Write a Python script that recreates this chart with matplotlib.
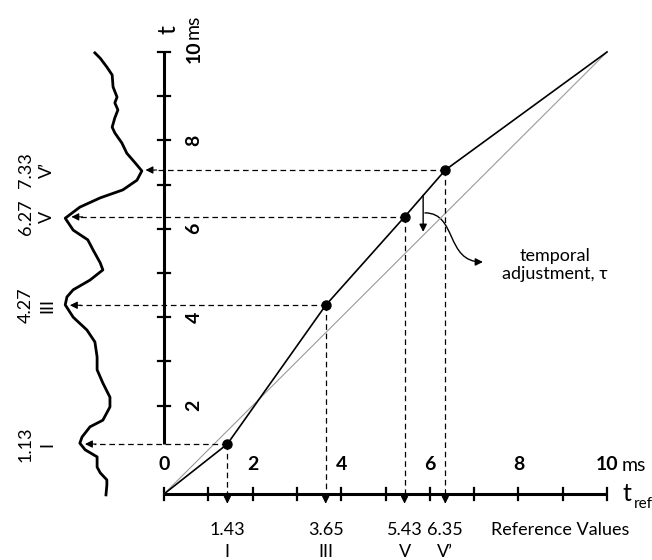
import numpy as np
import matplotlib.pyplot as plt
from matplotlib.path import Path
from matplotlib.patches import FancyArrowPatch

plt.rcParams['font.family'] = ['Lato', 'DejaVu Sans']

# peak latencies: reference values (x) and measured values (t)
ref_values = [1.43, 3.65, 5.43, 6.35]
t_values = [1.13, 4.27, 6.27, 7.33]
ref_labels = ['1.43', '3.65', '5.43', '6.35']
t_labels = ['1.13', '4.27', '6.27', '7.33']
peak_names = ['I', 'III', 'V', 'V\u2019']

# waveform drawn along the t axis (t from bottom to top, x = deflection)
wave_t = [-0.02, 0.20, 0.32, 0.48, 0.61, 0.84, 1.00, 1.15, 1.29, 1.52, 1.67, 1.97,
          2.19, 2.51, 2.81, 3.10, 3.44, 3.71, 4.00, 4.28, 4.46, 4.62, 4.84, 5.07,
          5.23, 5.52, 5.75, 5.97, 6.24, 6.49, 6.70, 6.88, 7.10, 7.31, 7.49, 7.71,
          7.94, 8.17, 8.30, 8.51, 8.69, 8.85, 8.98, 9.21, 9.48, 9.66, 9.86, 9.98]
wave_x = [-1.31, -1.29, -1.29, -1.44, -1.51, -1.51, -1.78, -1.90, -1.85, -1.67, -1.38, -1.22,
          -1.22, -1.38, -1.51, -1.51, -1.56, -1.74, -2.05, -2.23, -2.19, -2.05, -1.67, -1.38,
          -1.44, -1.60, -1.72, -2.05, -2.23, -1.90, -1.44, -0.93, -0.61, -0.50, -0.65, -0.84,
          -0.95, -1.11, -1.17, -1.11, -1.04, -1.11, -1.06, -1.15, -1.17, -1.29, -1.44, -1.56]

ticks = np.arange(0, 11)
major = [0, 2, 4, 6, 8, 10]

fig = plt.figure(figsize=(6.52, 5.6), dpi=100)
ax = fig.add_axes([0, 0, 1, 1])
ax.set_xlim(-164 / 44.3, (652 - 164) / 44.3)
ax.set_ylim(-(560 - 494) / 44.2, 494 / 44.2)
ax.axis('off')

axis_lw = 2.2
tick_h = 0.14
fs = 13
fs_bold = 14

# horizontal t_ref axis
ax.plot([0, 10], [0, 0], color='black', lw=axis_lw, solid_capstyle='butt')
for x in ticks:
    ax.plot([x, x], [-tick_h, tick_h], color='black', lw=1.6)
for x in major:
    ax.text(x, 0.66, str(x), ha='center', va='center', fontsize=fs_bold, fontweight='bold')
ax.text(10.33, 0.64, 'ms', ha='left', va='center', fontsize=fs_bold)
ax.text(10.35, 0.02, 't', ha='left', va='center', fontsize=18)
ax.text(10.6, -0.22, 'ref', ha='left', va='center', fontsize=11)

# vertical t axis
ax.plot([0, 0], [t_values[0], 10], color='black', lw=axis_lw, solid_capstyle='butt')
for t in ticks[2:]:
    ax.plot([-tick_h, tick_h], [t, t], color='black', lw=1.6)
for t in major[1:]:
    ax.text(0.68, t, str(t), ha='center', va='center', fontsize=fs_bold,
            fontweight='bold', rotation=90)
ax.text(0.66, 10.3, 'ms', ha='center', va='bottom', fontsize=fs_bold, rotation=90)
ax.text(0.1, 10.4, 't', ha='center', va='bottom', fontsize=18, rotation=90)

# identity line and measured latency line
ax.plot([0, 10], [0, 10], color='#9a9a9a', lw=0.8)
ax.plot([0] + ref_values + [10], [0] + t_values + [10], color='black', lw=1.2)
ax.plot(ref_values, t_values, 'o', color='black', ms=6.5)

# waveform
ax.plot(wave_x, wave_t, color='black', lw=2.0, solid_joinstyle='round')

head = dict(arrowstyle='-|>', color='black', lw=0.8, mutation_scale=11, shrinkA=0, shrinkB=0)
for rx, tv, rl, tl, name in zip(ref_values, t_values, ref_labels, t_labels, peak_names):
    tip_x = np.interp(tv, wave_t, wave_x) + 0.1
    ax.plot([rx, tip_x + 0.2], [tv, tv], color='black', lw=0.9, ls=(0, (4.5, 3)))
    ax.annotate('', xy=(tip_x, tv), xytext=(tip_x + 0.25, tv), arrowprops=head)
    ax.plot([rx, rx], [tv, -0.05], color='black', lw=0.9, ls=(0, (4.5, 3)))
    ax.annotate('', xy=(rx, -0.22), xytext=(rx, 0.0), arrowprops=head)
    ax.text(rx, -0.81, rl, ha='center', va='center', fontsize=fs)
    ax.text(rx, -1.32, name, ha='center', va='center', fontsize=fs)
    ax.text(-3.12, tv, tl, ha='center', va='center', fontsize=fs, rotation=90)
    ax.text(-2.64, tv, name, ha='center', va='center', fontsize=fs, rotation=90)

ax.text(8.94, -0.81, 'Reference Values', ha='center', va='center', fontsize=fs)

# temporal adjustment
ax.annotate('', xy=(5.85, 5.93), xytext=(5.85, 6.76),
            arrowprops=dict(arrowstyle='-|>', color='black', lw=1.0,
                            mutation_scale=11, shrinkA=0, shrinkB=0))
curve = Path([(5.89, 6.36), (6.62, 6.36), (6.35, 5.25), (7.2, 5.25)],
             [Path.MOVETO, Path.CURVE4, Path.CURVE4, Path.CURVE4])
ax.add_patch(FancyArrowPatch(path=curve, arrowstyle='-|>', color='black', lw=1.0,
                             mutation_scale=11))
ax.text(8.83, 5.18, 'temporal\nadjustment, \u03c4', ha='center', va='center',
        fontsize=fs, linespacing=1.2)

fig.savefig('out.png', dpi=100)
